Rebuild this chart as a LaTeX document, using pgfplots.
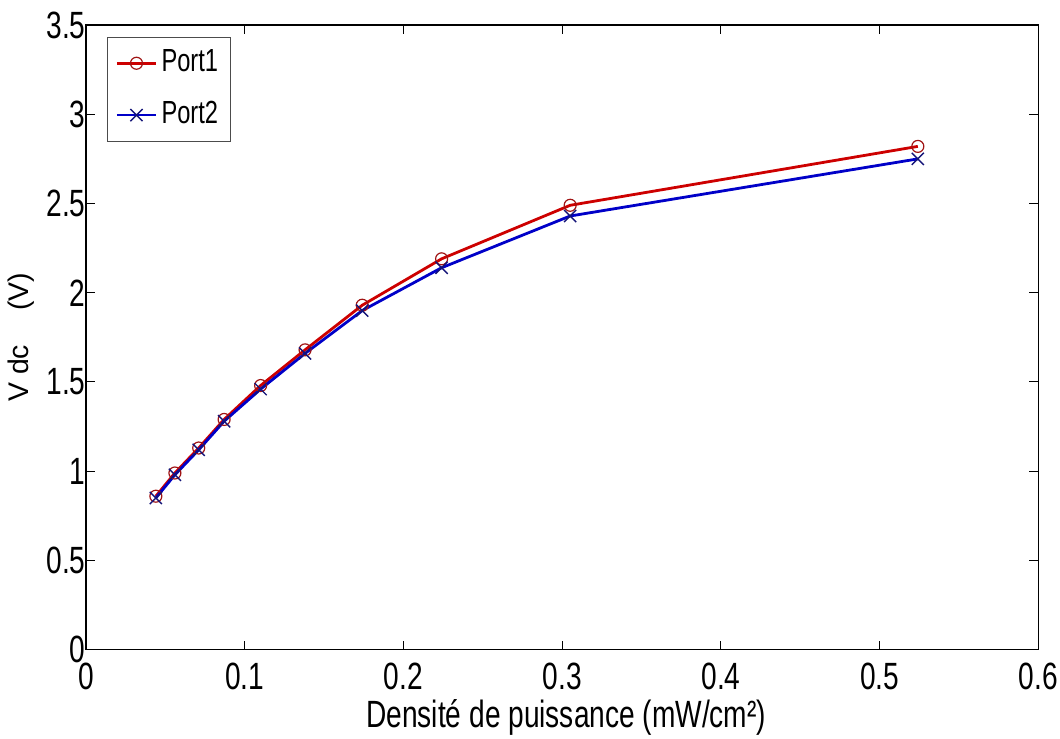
\documentclass[border={4.1pt 2pt 0pt 4.8pt}]{standalone}
\usepackage{graphicx}
\usepackage{fontspec}
\setmainfont{Liberation Sans}[FakeStretch=0.74]
\newfontfamily\plainsans{Liberation Sans}
\usepackage{pgfplots}
\pgfplotsset{compat=1.18}
\definecolor{pred}{RGB}{205,0,0}
\definecolor{pblue}{RGB}{0,0,200}
\definecolor{mred}{RGB}{160,20,20}
\definecolor{mblue}{RGB}{20,20,120}
\begin{document}
\fontsize{19}{22}\selectfont
\begin{tikzpicture}
\begin{axis}[
  scale only axis,
  width=476.5pt, height=312.5pt,
  xmin=0, xmax=0.6, ymin=0, ymax=3.5,
  xtick={0,0.1,...,0.6},
  ytick={0,0.5,...,3.5},
  xticklabels={0,0.1,0.2,0.3,0.4,0.5,0.6},
  yticklabels={0,0.5,1,1.5,2,2.5,3,3.5},
  tick align=inside,
  tick pos=both,
  major tick length=4.5pt,
  tick style={black, line width=0.5pt},
  axis line style={line width=0.6pt},
  ticklabel style={font=\fontsize{19}{22}\selectfont, inner sep=1pt},
  xticklabel style={yshift=-5.6pt},
  yticklabel style={xshift=1pt},
  xlabel={Densité de puissance (mW/cm²)},
  ylabel={\plainsans V dc\hspace{17pt}(V)},
  xlabel style={at={(axis description cs:0.5,0)}, anchor=north, yshift=-24.5pt,
    xshift=2pt, inner sep=0pt, font=\fontsize{19}{22}\selectfont},
  ylabel style={at={([xshift=-25.5pt]axis description cs:0,0.5)}, anchor=south,
    inner sep=0pt, font=\fontsize{14.2}{16}\selectfont},
  legend style={at={(0.022,0.981)}, anchor=north west, draw=black!70, line width=0.5pt,
    font=\fontsize{16}{19}\selectfont, inner sep=4pt, row sep=8pt},
  legend cell align=left,
  legend image code/.code={
    \draw[#1, mark=none] (0cm,0cm) -- (0.69cm,0cm);
    \draw[#1, only marks] plot coordinates {(0.345cm,0cm)};
  },
]
\addplot[color=pred, line width=1.4pt, mark=o, mark size=3pt,
  mark options={draw=mred, line width=0.6pt, fill=none}]
  coordinates {
  (0.044,0.86) (0.056,0.99) (0.071,1.13) (0.087,1.29) (0.110,1.48)
  (0.138,1.68) (0.174,1.93) (0.224,2.19) (0.305,2.49) (0.524,2.82)};
\addlegendentry{Port1}
\addplot[color=pblue, line width=1.4pt, mark=x, mark size=4.3pt,
  mark options={draw=mblue, line width=0.7pt}]
  coordinates {
  (0.044,0.85) (0.056,0.98) (0.071,1.12) (0.087,1.28) (0.110,1.46)
  (0.138,1.66) (0.174,1.90) (0.224,2.14) (0.305,2.43) (0.524,2.75)};
\addlegendentry{Port2}
\end{axis}
\end{tikzpicture}
\end{document}
